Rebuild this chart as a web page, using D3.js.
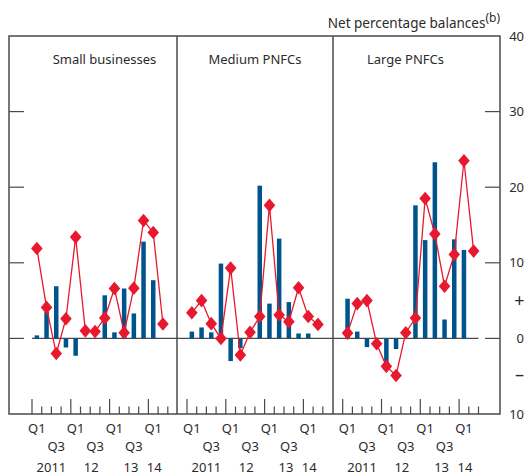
<!DOCTYPE html>
<html><head><meta charset="utf-8">
<script src="https://cdn.jsdelivr.net/npm/d3@7"></script>
<style>body{margin:0;background:#fff}svg{display:block}text{font-family:"Noto Sans",sans-serif;fill:#2b2b2b}</style>
</head><body><svg id="c" width="525" height="475"></svg>
<script>
const quarters = ["2011 Q1","Q2","Q3","Q4","2012 Q1","Q2","Q3","Q4","2013 Q1","Q2","Q3","Q4","2014 Q1","Q2"];
const panelTitles = ["Small businesses","Medium PNFCs","Large PNFCs"];
const smallBars = [0.4, 3.5, 6.9, -1.2, -2.3, 0, 0, 5.7, 0.8, 6.6, 3.3, 12.8, 7.7];
const smallLine = [11.9, 4.1, -2.0, 2.6, 13.4, 1.0, 0.9, 2.7, 6.6, 0.75, 6.65, 15.6, 14.0, 1.9];
const mediumBars = [0.9, 1.45, 0.8, 9.9, -3.0, -1.3, 0, 20.2, 4.6, 13.2, 4.8, 0.65, 0.65];
const mediumLine = [3.4, 5.0, 1.95, 0.0, 9.3, -2.2, 0.8, 2.9, 17.6, 3.1, 2.2, 6.7, 2.9, 1.85];
const largeBars = [5.25, 0.9, -1.15, 0, -4.0, -1.4, 0, 17.6, 13.0, 23.3, 2.5, 13.1, 11.7];
const largeLine = [0.7, 4.6, 5.0, -0.7, -3.7, -4.9, 0.75, 2.7, 18.5, 13.8, 6.9, 11.1, 23.5, 11.55];
const yTicks = [40, 30, 20, 10, 0, -10];
const yTickLabels = ["40","30","20","10","0","10"];
const signLabels = [{v:5,t:"+",dy:6},{v:-5,t:"–",dy:5}];
const q1Labels = [{i:0,t:"Q1"},{i:4,t:"Q1"},{i:8,t:"Q1"},{i:12,t:"Q1"}];
const q3Labels = [{i:2,t:"Q3"},{i:6,t:"Q3"},{i:10,t:"Q3"}];
const yearLabels = [{i:1.5,t:"2011"},{i:5.6,t:"12"},{i:9.7,t:"13"},{i:12.1,t:"14"}];

const svg = d3.select("#c");
const BLUE = "#00548c", RED = "#e8192f", FRAME = "#4a4a4a";
const y = d3.scaleLinear().domain([-10, 40]).range([414, 36]);
const frameL = 9, frameR = 500, div1 = 177, div2 = 333;
const step = 9.7;
const panelStarts = [32, 187, 342.7];
const panels = [
  {bars: smallBars, line: smallLine},
  {bars: mediumBars, line: mediumLine},
  {bars: largeBars, line: largeLine}
];

// zero line
svg.append("line").attr("x1", panelStarts[0]).attr("x2", panelStarts[2] + 14*step)
  .attr("y1", y(0)).attr("y2", y(0)).attr("stroke", FRAME).attr("stroke-width", 1.2);

const diamond = "M0,-6.8L5.8,0L0,6.8L-5.8,0Z";

panels.forEach((p, k) => {
  const x = d3.scaleLinear().domain([0, 14]).range([panelStarts[k], panelStarts[k] + 14*step]);
  const g = svg.append("g");
  const bw = 4.5;
  g.selectAll("rect").data(p.bars).join("rect")
    .attr("x", (d, i) => x(i + 0.5) - bw/2)
    .attr("width", bw)
    .attr("y", d => y(Math.max(0, d)))
    .attr("height", d => Math.abs(y(d) - y(0)))
    .attr("fill", BLUE);
  const line = d3.line().x((d, i) => x(i + 0.5)).y(d => y(d));
  g.append("path").attr("d", line(p.line)).attr("fill", "none").attr("stroke", RED).attr("stroke-width", 1.3);
  g.selectAll("path.m").data(p.line).join("path").attr("class", "m")
    .attr("d", diamond)
    .attr("transform", (d, i) => `translate(${x(i + 0.5)},${y(d)})`)
    .attr("fill", RED);
  // x ticks
  const ticks = d3.range(0, 15);
  g.selectAll("line.t").data(ticks).join("line").attr("class", "t")
    .attr("x1", d => x(d)).attr("x2", d => x(d))
    .attr("y1", d => d % 4 === 0 ? 399 : 406.5).attr("y2", 414)
    .attr("stroke", FRAME).attr("stroke-width", 1.2);
  g.selectAll("text.q1").data(q1Labels).join("text").attr("class", "q1")
    .attr("x", d => x(d.i + 0.5)).attr("y", 433).attr("text-anchor", "middle")
    .attr("font-size", 13).text(d => d.t);
  g.selectAll("text.q3").data(q3Labels).join("text").attr("class", "q3")
    .attr("x", d => x(d.i + 0.5)).attr("y", 451).attr("text-anchor", "middle")
    .attr("font-size", 13).text(d => d.t);
  g.selectAll("text.yr").data(yearLabels).join("text").attr("class", "yr")
    .attr("x", d => x(d.i + 0.5)).attr("y", 472).attr("text-anchor", "middle")
    .attr("font-size", 13).text(d => d.t);
});

// panel titles
const titleX = [104.5, 255, 405.5];
panelTitles.forEach((t, k) => {
  svg.append("text").attr("x", titleX[k]).attr("y", 64).attr("text-anchor", "middle")
    .attr("font-size", 13).text(t);
});

// frame
svg.append("rect").attr("x", frameL).attr("y", y(40)).attr("width", frameR - frameL).attr("height", y(-10) - y(40))
  .attr("fill", "none").attr("stroke", FRAME).attr("stroke-width", 1.5);
[div1, div2].forEach(xv => svg.append("line").attr("x1", xv).attr("x2", xv).attr("y1", y(40)).attr("y2", y(-10))
  .attr("stroke", FRAME).attr("stroke-width", 1.5));

// y ticks
const inner = yTicks.filter(v => v > -10 && v < 40);
svg.selectAll("line.yl").data(inner).join("line").attr("class", "yl")
  .attr("x1", frameL).attr("x2", frameL + 15).attr("y1", d => y(d)).attr("y2", d => y(d))
  .attr("stroke", FRAME).attr("stroke-width", 1.2);
svg.selectAll("line.yr").data(inner).join("line").attr("class", "yr")
  .attr("x1", frameR - 15).attr("x2", frameR).attr("y1", d => y(d)).attr("y2", d => y(d))
  .attr("stroke", FRAME).attr("stroke-width", 1.2);
svg.selectAll("text.ylab").data(yTicks).join("text").attr("class", "ylab")
  .attr("x", 524).attr("y", d => y(d) + 4.5).attr("text-anchor", "end")
  .attr("font-size", 13).text((d, i) => yTickLabels[i]);
svg.selectAll("text.sign").data(signLabels).join("text").attr("class", "sign")
  .attr("x", 519.5).attr("y", d => y(d.v) + d.dy).attr("text-anchor", "middle")
  .attr("font-size", 18).text(d => d.t);

// unit title
const ut = svg.append("text").attr("x", 500).attr("y", 28).attr("text-anchor", "end").attr("font-size", 13.5);
ut.append("tspan").text("Net percentage balances");
ut.append("tspan").attr("dy", -6).attr("font-size", 12).text("(b)");
</script></body></html>
